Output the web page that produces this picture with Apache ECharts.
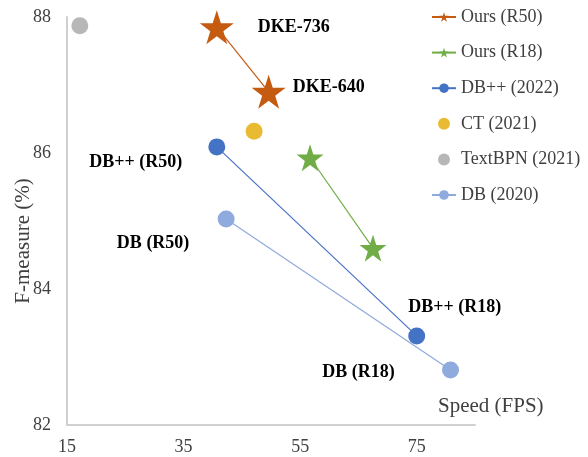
<!DOCTYPE html>
<html><head><meta charset="utf-8">
<script src="https://cdn.jsdelivr.net/npm/echarts@6/dist/echarts.min.js"></script>
<style>html,body{margin:0;padding:0;background:#fff}#c{width:588px;height:457px}</style>
</head><body><div id="c"></div>
<script>
const xTicks = [15, 35, 55, 75];
const yTicks = [82, 84, 86, 88];
const seriesNames = ['Ours (R50)', 'Ours (R18)', 'DB++ (2022)', 'CT (2021)', 'TextBPN (2021)', 'DB (2020)'];
const oursR50 = [[40.7, 87.85], [49.6, 86.90]];
const oursR50Labels = ['DKE-736', 'DKE-640'];
const oursR18 = [[56.7, 85.93], [67.5, 84.60]];
const dbpp = [[40.7, 86.09], [75.0, 83.31]];
const dbppLabels = ['DB++ (R50)', 'DB++ (R18)'];
const ct = [[47.1, 86.32]];
const textbpn = [[17.2, 87.87]];
const db = [[42.3, 85.03], [80.8, 82.81]];
const dbLabels = ['DB (R50)', 'DB (R18)'];

const FONT = '"Liberation Serif", "Times New Roman", serif';
const lblStyle = {show: true, position: 'inside', fontFamily: FONT, fontWeight: 'bold', fontSize: 18, color: '#000'};
function withLabels(data, labels, offsets) {
  return data.map((d, i) => ({value: d, label: Object.assign({}, lblStyle, {formatter: labels[i], offset: offsets[i]})}));
}

const chart = echarts.init(document.getElementById('c'), null, {renderer: 'canvas'});
chart.setOption({
  animation: false,
  grid: {left: 67, right: 113, top: 17, bottom: 32},
  xAxis: {
    type: 'value', min: 15, max: 85, interval: 20,
    axisLine: {show: true, lineStyle: {color: '#d0d0d0', width: 2}},
    axisTick: {show: false}, splitLine: {show: false},
    axisLabel: {margin: 13, fontFamily: FONT, fontSize: 18, color: '#404040',
      formatter: v => xTicks.includes(v) ? String(v) : ''}
  },
  yAxis: {
    type: 'value', min: 82, max: 88, interval: 2,
    axisLine: {show: true, lineStyle: {color: '#d0d0d0', width: 2}},
    axisTick: {show: false}, splitLine: {show: false},
    axisLabel: {margin: 16, fontFamily: FONT, fontSize: 18, color: '#404040',
      formatter: v => yTicks.includes(v) ? String(v) : ''}
  },
  legend: {
    orient: 'vertical', left: 426, top: 3, itemWidth: 24, itemHeight: 12, itemGap: 17.6,
    data: seriesNames,
    textStyle: {fontFamily: FONT, fontSize: 18, color: '#404040', lineHeight: 18}
  },
  graphic: [
    {type: 'text', left: 438, top: 396, style: {text: 'Speed (FPS)', font: '21px "Liberation Serif", serif', fill: '#404040'}},
    {type: 'text', x: 23, y: 241, rotation: Math.PI / 2, style: {text: 'F-measure (%)', font: '21px "Liberation Serif", serif', fill: '#404040', align: 'center', verticalAlign: 'middle'}}
  ],
  series: [
    {name: seriesNames[0], type: 'line', data: withLabels(oursR50, oursR50Labels, [[77, 0], [60, -4]]),
      symbol: 'path://M50,0 L61.8,35.1 L98.9,35.1 L68.8,57 L80.2,92.1 L50,70.5 L19.8,92.1 L31.2,57 L1.1,35.1 L38.2,35.1 Z',
      symbolSize: 34, itemStyle: {color: '#C55A11'}, lineStyle: {color: '#C55A11', width: 1.2}, z: 5},
    {name: seriesNames[1], type: 'line', data: oursR18,
      symbol: 'path://M50,0 L61.8,35.1 L98.9,35.1 L68.8,57 L80.2,92.1 L50,70.5 L19.8,92.1 L31.2,57 L1.1,35.1 L38.2,35.1 Z',
      symbolSize: 27, itemStyle: {color: '#70AD47'}, lineStyle: {color: '#70AD47', width: 1.2}, z: 5},
    {name: seriesNames[2], type: 'line', data: withLabels(dbpp, dbppLabels, [[-81, 15], [38, -29]]),
      symbol: 'circle', symbolSize: 17, itemStyle: {color: '#4472C4'}, lineStyle: {color: '#4472C4', width: 1.2}, z: 4},
    {name: seriesNames[3], type: 'scatter', data: ct, symbol: 'circle', symbolSize: 17, itemStyle: {color: '#E3AA00'}},
    {name: seriesNames[4], type: 'scatter', data: textbpn, symbol: 'circle', symbolSize: 17, itemStyle: {color: '#A5A5A5'}},
    {name: seriesNames[5], type: 'line', data: withLabels(db, dbLabels, [[-73, 24], [-92, 2]]),
      symbol: 'circle', symbolSize: 17, itemStyle: {color: '#8FAADC'}, lineStyle: {color: '#8FAADC', width: 1.2}, z: 3}
  ]
});
</script>
</body></html>
